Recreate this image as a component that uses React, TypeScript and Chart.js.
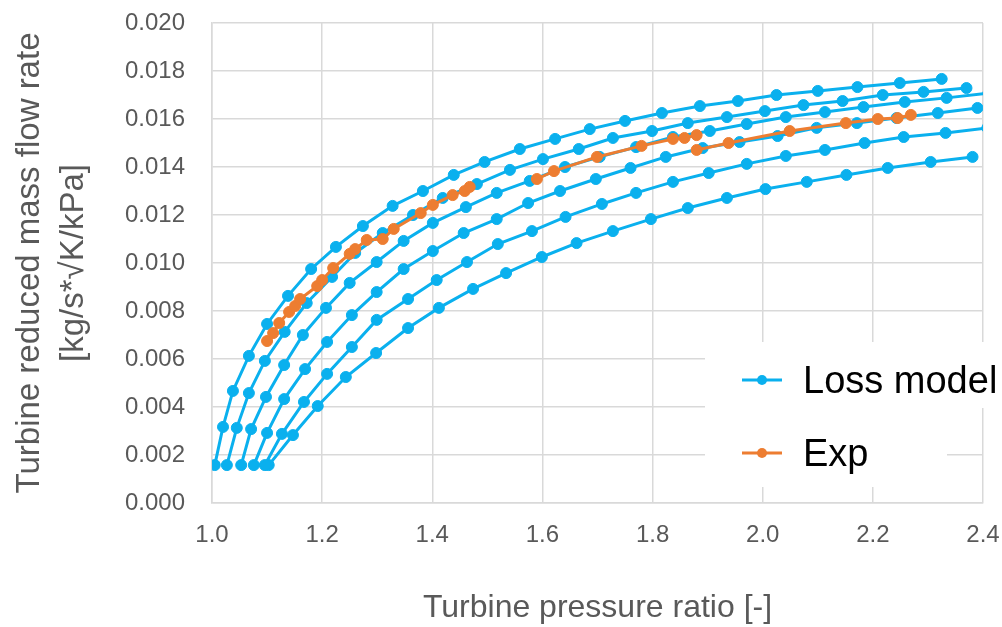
import React, { useEffect, useRef } from "react";
import { Chart, registerables } from "chart.js";

Chart.register(...registerables);

type Pt = [number, number];

// ---------- data ----------
const xAxisTitle = "Turbine pressure ratio [-]";
const yAxisTitle = ["Turbine reduced mass flow rate", "[kg/s*√K/kPa]"];
const seriesNames = ["Loss model", "Exp"];

const xTickValues = [1.0, 1.2, 1.4, 1.6, 1.8, 2.0, 2.2, 2.4];
const xTickLabels = ["1.0", "1.2", "1.4", "1.6", "1.8", "2.0", "2.2", "2.4"];
const yTickValues = [0, 0.002, 0.004, 0.006, 0.008, 0.01, 0.012, 0.014, 0.016, 0.018, 0.02];
const yTickLabels = ["0.000", "0.002", "0.004", "0.006", "0.008", "0.010", "0.012", "0.014", "0.016", "0.018", "0.020"];

const lossCurve1: Pt[] = [
  [1.005, 0.00158], [1.02, 0.00317], [1.038, 0.00467], [1.067, 0.00613], [1.1, 0.00746],
  [1.138, 0.00863], [1.18, 0.00975], [1.225, 0.01067], [1.274, 0.01154], [1.328, 0.01238],
  [1.383, 0.013], [1.439, 0.01367], [1.495, 0.01421], [1.559, 0.01475], [1.623, 0.01517],
  [1.686, 0.01558], [1.75, 0.01592], [1.817, 0.01625], [1.886, 0.01654], [1.955, 0.01675],
  [2.025, 0.017], [2.1, 0.01717], [2.172, 0.01733], [2.249, 0.0175], [2.325, 0.01767],
];
const lossCurve2: Pt[] = [
  [1.027, 0.00158], [1.045, 0.00313], [1.067, 0.00458], [1.096, 0.00592], [1.132, 0.00713],
  [1.172, 0.00833], [1.218, 0.00942], [1.26, 0.01042], [1.31, 0.01125], [1.365, 0.012],
  [1.419, 0.01271], [1.481, 0.01329], [1.541, 0.01388], [1.601, 0.01433], [1.666, 0.01475],
  [1.728, 0.01521], [1.799, 0.0155], [1.864, 0.01583], [1.935, 0.01608], [2.004, 0.01633],
  [2.074, 0.01658], [2.145, 0.01675], [2.218, 0.017], [2.292, 0.01713], [2.37, 0.01729],
];
const lossCurve3: Pt[] = [
  [1.053, 0.00158], [1.071, 0.00308], [1.098, 0.00442], [1.131, 0.00575], [1.165, 0.007],
  [1.207, 0.00813], [1.25, 0.00917], [1.299, 0.01004], [1.348, 0.01092], [1.401, 0.01167],
  [1.461, 0.01233], [1.517, 0.01292], [1.577, 0.01342], [1.641, 0.014], [1.704, 0.01442],
  [1.77, 0.01483], [1.837, 0.01525], [1.904, 0.0155], [1.971, 0.01579], [2.042, 0.01608],
  [2.113, 0.01629], [2.183, 0.0165], [2.258, 0.01671], [2.334, 0.01688], [2.41, 0.01708],
];
const lossCurve4: Pt[] = [
  [1.076, 0.00158], [1.1, 0.00292], [1.131, 0.00433], [1.169, 0.00558], [1.209, 0.00671],
  [1.254, 0.00783], [1.299, 0.00879], [1.348, 0.00975], [1.401, 0.0105], [1.457, 0.01125],
  [1.517, 0.01183], [1.574, 0.0125], [1.632, 0.013], [1.697, 0.0135], [1.76, 0.01396],
  [1.824, 0.01442], [1.891, 0.01479], [1.958, 0.01504], [2.027, 0.01529], [2.098, 0.01563],
  [2.171, 0.01583], [2.243, 0.01604], [2.318, 0.01625], [2.39, 0.01646],
];
const lossCurve5: Pt[] = [
  [1.096, 0.00158], [1.127, 0.00288], [1.167, 0.00421], [1.209, 0.00538], [1.254, 0.0065],
  [1.299, 0.00763], [1.356, 0.0085], [1.408, 0.00929], [1.463, 0.01004], [1.519, 0.01079],
  [1.581, 0.01133], [1.642, 0.01192], [1.708, 0.01246], [1.77, 0.01292], [1.837, 0.01338],
  [1.902, 0.01375], [1.971, 0.01413], [2.042, 0.01446], [2.113, 0.01471], [2.185, 0.015],
  [2.256, 0.01525], [2.332, 0.01542], [2.408, 0.01563],
];
const lossCurve6: Pt[] = [
  [1.103, 0.00158], [1.147, 0.00283], [1.192, 0.00404], [1.243, 0.00525], [1.298, 0.00625],
  [1.356, 0.00729], [1.412, 0.00813], [1.474, 0.00892], [1.534, 0.00958], [1.599, 0.01025],
  [1.662, 0.01083], [1.728, 0.01133], [1.797, 0.01183], [1.864, 0.01229], [1.935, 0.01271],
  [2.005, 0.01308], [2.08, 0.01338], [2.152, 0.01367], [2.227, 0.01396], [2.305, 0.01421],
  [2.381, 0.01442],
];

const expSegment1: Pt[] = [
  [1.1, 0.00675], [1.111, 0.00708], [1.122, 0.0075], [1.14, 0.00796], [1.151, 0.00821],
  [1.16, 0.0085], [1.191, 0.00904], [1.2, 0.00929], [1.22, 0.00979], [1.25, 0.01038],
  [1.26, 0.01058], [1.281, 0.01096], [1.31, 0.011], [1.33, 0.01142], [1.379, 0.01208],
  [1.401, 0.01242], [1.437, 0.01283], [1.459, 0.013], [1.468, 0.01317],
];
const expSegment2: Pt[] = [
  [1.59, 0.0135], [1.621, 0.01383], [1.699, 0.01442], [1.78, 0.01488], [1.837, 0.01517],
  [1.858, 0.01521], [1.88, 0.01533],
];
const expSegment3: Pt[] = [
  [1.88, 0.01471], [1.938, 0.015], [2.049, 0.0155], [2.151, 0.01583], [2.209, 0.016],
  [2.245, 0.01604], [2.269, 0.01617],
];

const lossCurves = [lossCurve1, lossCurve2, lossCurve3, lossCurve4, lossCurve5, lossCurve6];
const expSegments = [expSegment1, expSegment2, expSegment3];

// ---------- style ----------
const BLUE = "#0AB0EE";
const ORANGE = "#ED7D31";
const GRID = "#D9D9D9";
const TEXT = "#595959";
const FONT = "'Liberation Sans', Arial, sans-serif";

const toXY = (pts: Pt[]) => pts.map(([x, y]) => ({ x, y }));

const insetLegend = {
  id: "insetLegend",
  afterDraw(chart: any) {
    const { ctx, chartArea } = chart;
    const left = chartArea.right - 278;
    ctx.save();
    ctx.fillStyle = "#ffffff";
    ctx.fillRect(left, 342, chart.width - left, 66);
    ctx.fillRect(left, 408, chartArea.right - 36 - left, 79);
    const items = [
      { label: seriesNames[0], color: BLUE, y: 380 },
      { label: seriesNames[1], color: ORANGE, y: 453 },
    ];
    items.forEach((it) => {
      ctx.strokeStyle = it.color;
      ctx.lineWidth = 3;
      ctx.beginPath();
      ctx.moveTo(left + 37, it.y);
      ctx.lineTo(left + 77, it.y);
      ctx.stroke();
      ctx.fillStyle = it.color;
      ctx.beginPath();
      ctx.arc(left + 57, it.y, 5, 0, Math.PI * 2);
      ctx.fill();
      ctx.fillStyle = "#000000";
      ctx.font = `38px ${FONT}`;
      ctx.textAlign = "left";
      ctx.textBaseline = "alphabetic";
      ctx.fillText(it.label, left + 98, it.y + 13);
    });
    ctx.restore();
  },
};

export default function App() {
  const canvasRef = useRef<HTMLCanvasElement | null>(null);

  useEffect(() => {
    const canvas = canvasRef.current;
    if (!canvas) return;

    const common = {
      pointRadius: 5.5,
      pointBorderWidth: 1,
      borderWidth: 3,
      tension: 0,
    };

    const datasets: any[] = [
      ...expSegments.map((seg) => ({
        ...common,
        label: seriesNames[1],
        data: toXY(seg),
        borderColor: ORANGE,
        backgroundColor: ORANGE,
        pointBackgroundColor: ORANGE,
        pointBorderColor: ORANGE,
        order: 0,
      })),
      ...lossCurves.map((curve) => ({
        ...common,
        label: seriesNames[0],
        data: toXY(curve),
        borderColor: BLUE,
        backgroundColor: BLUE,
        pointBackgroundColor: BLUE,
        pointBorderColor: BLUE,
        order: 1,
      })),
    ];

    const chart = new Chart(canvas, {
      type: "line",
      data: { datasets },
      options: {
        animation: false,
        responsive: false,
        devicePixelRatio: 1,
        layout: { padding: { left: 0, right: 19, top: 23, bottom: 0 } },
        plugins: {
          legend: { display: false },
          tooltip: { enabled: false },
        },
        scales: {
          x: {
            type: "linear",
            min: 1.0,
            max: 2.4,
            afterFit: (scale: any) => {
              scale.height = 124;
              scale.paddingLeft = 0;
              scale.paddingRight = 0;
            },
            afterBuildTicks: (scale: any) => {
              scale.ticks = xTickValues.map((v) => ({ value: v }));
            },
            ticks: {
              padding: 18,
              color: TEXT,
              font: { size: 24, family: FONT },
              maxRotation: 0,
              callback: (_v: any, i: number) => xTickLabels[i],
            },
            grid: { color: GRID, lineWidth: 1.5, drawTicks: false },
            border: { color: GRID, width: 1.5 },
            title: {
              display: true,
              text: xAxisTitle,
              color: TEXT,
              font: { size: 32, family: FONT, lineHeight: 1.2 },
              padding: { top: 0, bottom: 0 },
            },
          },
          y: {
            type: "linear",
            min: 0,
            max: 0.02,
            afterFit: (scale: any) => {
              scale.width = 212;
              scale.paddingTop = 0;
              scale.paddingBottom = 0;
            },
            afterBuildTicks: (scale: any) => {
              scale.ticks = yTickValues.map((v) => ({ value: v }));
            },
            ticks: {
              padding: 27,
              color: TEXT,
              font: { size: 24, family: FONT },
              callback: (_v: any, i: number) => yTickLabels[i],
            },
            grid: { color: GRID, lineWidth: 1.5, drawTicks: false },
            border: { color: GRID, width: 1.5 },
            title: {
              display: true,
              text: yAxisTitle,
              color: TEXT,
              font: { size: 33, family: FONT, lineHeight: 1.36 },
              padding: { top: 7, bottom: 0 },
            },
          },
        },
      },
      plugins: [insetLegend],
    });

    return () => chart.destroy();
  }, []);

  return (
    <div style={{ position: "fixed", left: 0, top: 0, width: 1002, height: 627, background: "#fff" }}>
      <canvas ref={canvasRef} width={1002} height={627} style={{ display: "block", width: 1002, height: 627 }} />
    </div>
  );
}
